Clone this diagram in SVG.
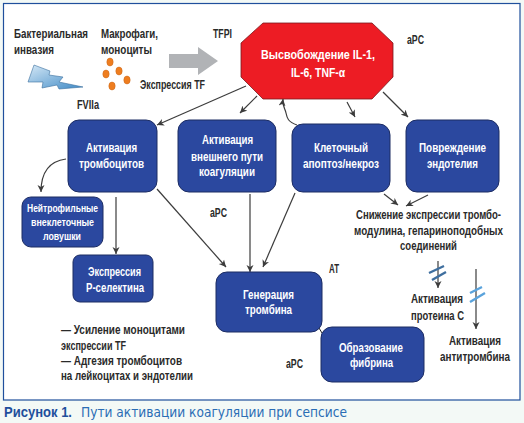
<svg xmlns="http://www.w3.org/2000/svg" width="524" height="423" viewBox="0 0 524 423">
<style>
text{font-family:"Liberation Sans",Arial,sans-serif;font-weight:700;font-size:12.5px;fill:#2a2a2a}
.w{fill:#fff}
.r{fill:#2b489f;stroke:#1c2c63;stroke-width:1}
.c{fill:none;stroke:#3c3c3c;stroke-width:1.2;marker-end:url(#a)}
.cap{fill:#1f4f9c;font-size:14px}
.capn{fill:#2a6db5;font-size:14px;font-weight:400;font-family:"DejaVu Sans",sans-serif}
.d{fill:#ee7d1f;stroke:#c9661a;stroke-width:.5}
.s{font-size:11.5px}
.l{font-size:13.5px}
</style>
<defs>
<marker id="a" markerWidth="8" markerHeight="8" refX="7" refY="4" orient="auto" markerUnits="userSpaceOnUse"><path d="M0 .5L7 4L0 7.5L2 4Z" fill="#3c3c3c"/></marker>
<linearGradient id="g" x1="0" y1="0" x2="1" y2="1"><stop offset="0" stop-color="#d5e8f6"/><stop offset="1" stop-color="#3f8ac6"/></linearGradient>
</defs>
<rect width="524" height="423" fill="#f3f9f6"/>
<rect x="3.5" y="3.5" width="516.5" height="396.5" fill="#fff" stroke="#1f4f9c" stroke-width="1.2"/>
<g id="invasion">
<text transform="translate(14 38) scale(.8 1)" textLength="92.5" lengthAdjust="spacingAndGlyphs">Бактериальная</text>
<text x="14" y="54" textLength="40" lengthAdjust="spacingAndGlyphs">инвазия</text>
<polygon points="34,65 50,71 49,75 63,77 59,82 83,87 59,89 57,85 42,88 43,82 28,82" fill="url(#g)" stroke="#3a6f9e" stroke-width=".6"/>
<text x="77" y="109" textLength="22" lengthAdjust="spacingAndGlyphs">FVIIa</text>
</g>
<g id="macrophages">
<text x="101" y="38" textLength="57" lengthAdjust="spacingAndGlyphs">Макрофаги,</text>
<text x="101" y="54" textLength="51" lengthAdjust="spacingAndGlyphs">моноциты</text>
<ellipse class="d" cx="110" cy="62" rx="3.2" ry="4"/>
<ellipse class="d" cx="106" cy="74" rx="3.2" ry="4"/>
<ellipse class="d" cx="119" cy="71" rx="3.2" ry="4"/>
<ellipse class="d" cx="127" cy="80" rx="3.2" ry="4"/>
<ellipse class="d" cx="112" cy="86" rx="3.2" ry="4"/>
<text x="140" y="89" textLength="65" lengthAdjust="spacingAndGlyphs">Экспрессия TF</text>
</g>
<polygon id="grey-arrow" points="169,54 198,54 198,47 218,61 198,75 198,68 169,68" fill="#b1b3b6"/>
<text x="213" y="38" textLength="19" lengthAdjust="spacingAndGlyphs">TFPI</text>
<text x="407" y="44" textLength="17" lengthAdjust="spacingAndGlyphs">aPC</text>
<g id="release">
<polygon points="263,23 372,23 393,43 393,77 372,99 263,99 241,77 241,43" fill="#ed1c24" stroke="#7a1a1e" stroke-width=".8"/>
<text class="w l" x="261" y="59" textLength="114" lengthAdjust="spacingAndGlyphs">Высвобождение IL-1,</text>
<text class="w l" x="291" y="77" textLength="54" lengthAdjust="spacingAndGlyphs">IL-6, TNF-α</text>
</g>
<g id="connectors">
<path class="c" d="M246 86L157 125"/>
<path class="c" d="M257 96L240 113"/>
<path class="c" d="M347 102L355 117"/>
<path class="c" d="M383 92L408 117"/>
<path class="c" d="M297 125C288 122 287 118 286 113C285 108 282 106 283 99"/>
<path class="c" d="M66 159C50 161 41 172 41 192"/>
<path class="c" d="M116 197V254"/>
<path class="c" d="M157 189L226 267"/>
<path class="c" d="M250 194V272"/>
<path class="c" d="M295 193L263 267"/>
<path class="c" d="M384 194L398 205"/>
<path class="c" d="M428 195L406 206"/>
<path class="c" d="M438 261V288"/>
<path class="c" d="M476 269V329"/>
<path d="M319 328L322 333" stroke="#222" stroke-width="1" fill="none"/>
<path d="M429 273L444 266M432 280L446 272" stroke="#3f6f9f" stroke-width="2.4" fill="none"/>
<path d="M470 293L482 287M470 302L485 293" stroke="#5aa3dc" stroke-width="2.4" fill="none"/>
</g>
<g id="platelets"><rect class="r" x="68" y="120" width="89" height="72" rx="11"/>
<text class="w" x="86" y="152" textLength="51" lengthAdjust="spacingAndGlyphs">Активация</text>
<text class="w" x="79" y="168" textLength="65" lengthAdjust="spacingAndGlyphs">тромбоцитов</text></g>
<g id="extrinsic"><rect class="r" x="178" y="120" width="98" height="72" rx="11"/>
<text class="w" x="202" y="144" textLength="51" lengthAdjust="spacingAndGlyphs">Активация</text>
<text class="w" x="191" y="161" textLength="72" lengthAdjust="spacingAndGlyphs">внешнего пути</text>
<text class="w" x="199" y="176" textLength="56" lengthAdjust="spacingAndGlyphs">коагуляции</text></g>
<g id="apoptosis"><rect class="r" x="292" y="124" width="98" height="68" rx="11"/>
<text class="w" x="314" y="152" textLength="54" lengthAdjust="spacingAndGlyphs">Клеточный</text>
<text class="w" x="303" y="168" textLength="76" lengthAdjust="spacingAndGlyphs">апоптоз/некроз</text></g>
<g id="endothelium"><rect class="r" x="406" y="120" width="93" height="72" rx="11"/>
<text class="w" x="419" y="152" textLength="67" lengthAdjust="spacingAndGlyphs">Повреждение</text>
<text class="w" x="427" y="168" textLength="51" lengthAdjust="spacingAndGlyphs">эндотелия</text></g>
<g id="net"><rect class="r" x="22" y="197" width="81" height="50" rx="9"/>
<text class="w s" x="27" y="212" textLength="71" lengthAdjust="spacingAndGlyphs">Нейтрофильные</text>
<text class="w s" x="31" y="226" textLength="63" lengthAdjust="spacingAndGlyphs">внеклеточные</text>
<text class="w s" x="43" y="240" textLength="38" lengthAdjust="spacingAndGlyphs">ловушки</text></g>
<g id="pselectin"><rect class="r" x="73" y="255" width="80" height="47" rx="7"/>
<text class="w" x="88" y="276" textLength="53" lengthAdjust="spacingAndGlyphs">Экспрессия</text>
<text class="w" x="86" y="292" textLength="58" lengthAdjust="spacingAndGlyphs">Р-селектина</text></g>
<g id="thrombin"><rect class="r" x="216" y="272" width="106" height="60" rx="11"/>
<text class="w" x="243" y="299" textLength="51" lengthAdjust="spacingAndGlyphs">Генерация</text>
<text class="w" x="245" y="314" textLength="47" lengthAdjust="spacingAndGlyphs">тромбина</text></g>
<g id="fibrin"><rect class="r" x="321" y="327" width="103" height="55" rx="11"/>
<text class="w" x="339" y="352" textLength="64" lengthAdjust="spacingAndGlyphs">Образование</text>
<text class="w" x="350" y="367" textLength="43" lengthAdjust="spacingAndGlyphs">фибрина</text></g>
<text x="210" y="217" textLength="17" lengthAdjust="spacingAndGlyphs">aPC</text>
<text x="329" y="273" textLength="10" lengthAdjust="spacingAndGlyphs">AT</text>
<text x="286" y="368" textLength="17" lengthAdjust="spacingAndGlyphs">aPC</text>
<g id="reduction">
<text transform="translate(356 219) scale(.8 1)" textLength="181.25" lengthAdjust="spacingAndGlyphs">Снижение экспрессии тромбо-</text>
<text transform="translate(354 235) scale(.8 1)" textLength="186.25" lengthAdjust="spacingAndGlyphs">модулина, гепариноподобных</text>
<text x="400" y="250" textLength="57" lengthAdjust="spacingAndGlyphs">соединений</text>
</g>
<g id="protein-c">
<text x="411" y="303" textLength="52" lengthAdjust="spacingAndGlyphs">Активация</text>
<text x="411" y="320" textLength="53" lengthAdjust="spacingAndGlyphs">протеина С</text>
</g>
<g id="antithrombin">
<text x="449" y="345" textLength="52" lengthAdjust="spacingAndGlyphs">Активация</text>
<text transform="translate(440 361) scale(.8 1)" textLength="87.5" lengthAdjust="spacingAndGlyphs">антитромбина</text>
</g>
<g id="notes">
<text x="61" y="334" textLength="124" lengthAdjust="spacingAndGlyphs">— Усиление моноцитами</text>
<text x="61" y="350" textLength="65" lengthAdjust="spacingAndGlyphs">экспрессии TF</text>
<text x="61" y="365" textLength="121" lengthAdjust="spacingAndGlyphs">— Адгезия тромбоцитов</text>
<text x="61" y="380" textLength="132" lengthAdjust="spacingAndGlyphs">на лейкоцитах и эндотелии</text>
</g>
<text class="cap" x="4" y="417" textLength="68" lengthAdjust="spacingAndGlyphs">Рисунок 1.</text>
<text class="capn" x="81" y="417" textLength="266" lengthAdjust="spacingAndGlyphs">Пути активации коагуляции при сепсисе</text>
</svg>
